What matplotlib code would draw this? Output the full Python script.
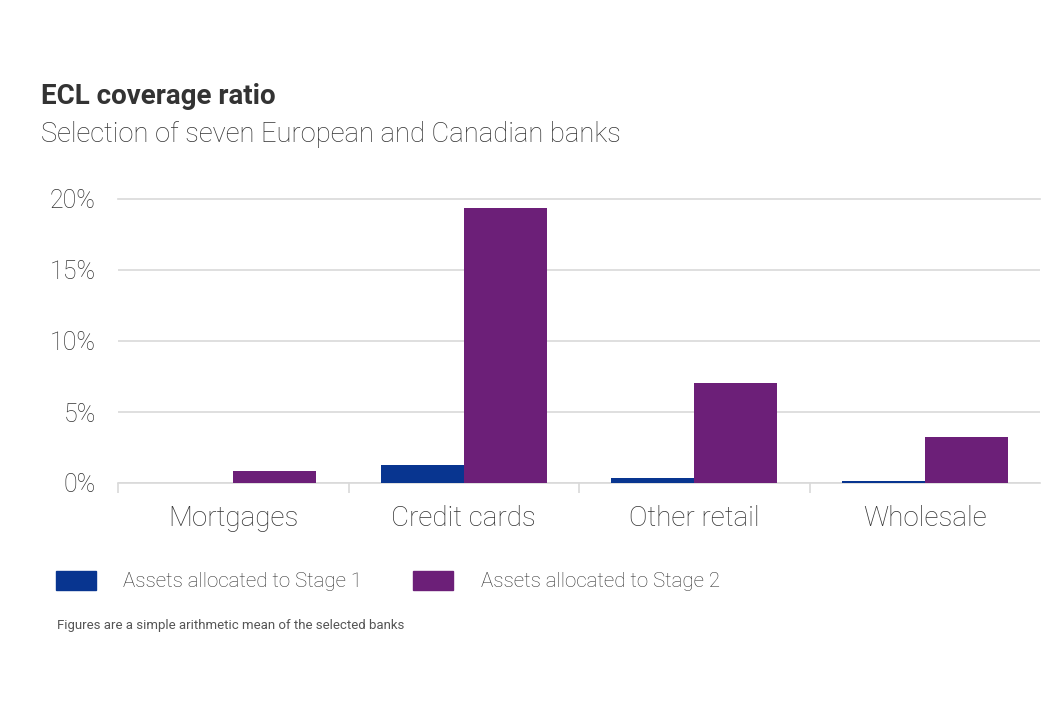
import matplotlib
matplotlib.use("Agg")
import matplotlib.pyplot as plt
import numpy as np
from matplotlib.patches import Patch

categories = ["Mortgages", "Credit cards", "Other retail", "Wholesale"]
stage1 = [0.0, 1.29, 0.37, 0.16]
stage2 = [0.88, 19.35, 7.06, 3.22]
series_names = ["Assets allocated to Stage 1", "Assets allocated to Stage 2"]
yticks = [0, 5, 10, 15, 20]

c1 = "#083590"
c2 = "#6c1f78"
grid_c = "#d9d9d9"
txt_c = "#333333"

plt.rcParams['font.family'] = ['Roboto', 'DejaVu Sans']
plt.rcParams['font.weight'] = 'light'

fig = plt.figure(figsize=(10.62, 7.08), dpi=100)
ax = fig.add_axes([118/1062, 1 - 483/708, (1040-118)/1062, (483-199)/708])

x = np.arange(len(categories))
w = 0.36
ax.bar(x - w/2, stage1, w, color=c1, zorder=3)
ax.bar(x + w/2, stage2, w, color=c2, zorder=3)

ax.set_xlim(-0.5, len(categories) - 0.5)
ax.set_ylim(0, 20)
ax.set_yticks(yticks)
ax.set_yticklabels([f"{t}%" for t in yticks])
ax.set_xticks(x)
ax.set_xticklabels(categories)
ax.set_xticks(np.arange(len(categories)) - 0.5, minor=True)

for s in ["top", "right", "left"]:
    ax.spines[s].set_visible(False)
ax.spines["bottom"].set_color(grid_c)
ax.spines["bottom"].set_linewidth(1.2)

ax.yaxis.grid(True, color=grid_c, linewidth=1.2, zorder=0)
ax.yaxis.get_gridlines()[-1].set_clip_on(False)
ax.tick_params(axis="y", length=0, pad=16, labelsize=18, labelcolor=txt_c)
ax.tick_params(axis="x", which="major", length=0, pad=16, labelsize=20, labelcolor=txt_c)
ax.tick_params(axis="x", which="minor", length=7, width=1.2, color=grid_c)

fig.text(41/1062, 1 - 97/708, "ECL coverage ratio", fontsize=20, fontweight="bold",
         color=txt_c, va="center", ha="left")
fig.text(41/1062, 1 - 134/708, "Selection of seven European and Canadian banks", fontsize=19.7,
         color=txt_c, va="center", ha="left")

handles = [Patch(color=c1), Patch(color=c2)]
leg = fig.legend(handles, series_names, loc="center left",
                 bbox_to_anchor=(37/1062, 1 - 581/708), ncol=2, frameon=False,
                 fontsize=14.8, handlelength=1.95, handleheight=1.05,
                 handletextpad=1.35, columnspacing=2.45)
for t in leg.get_texts():
    t.set_color(txt_c)

fig.text(57/1062, 1 - 625/708, "Figures are a simple arithmetic mean of the selected banks",
         fontsize=9.5, fontweight="normal", color="#555555", va="center", ha="left")

fig.savefig("out.png", dpi=100)
